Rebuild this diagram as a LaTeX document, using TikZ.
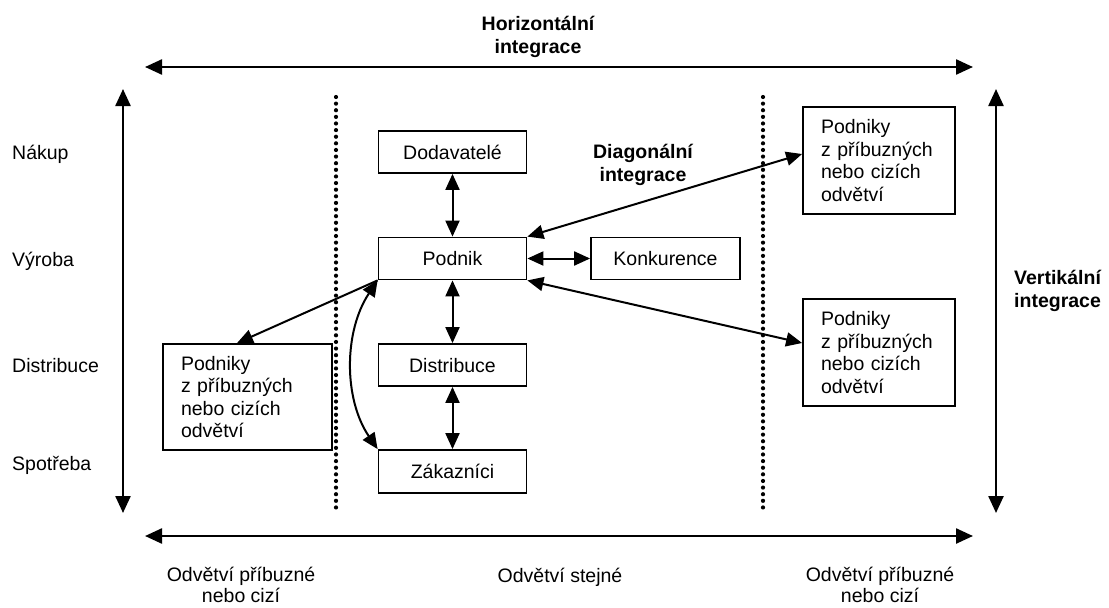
\documentclass[tikz,border=0pt]{standalone}
\usepackage{fontspec}
\setmainfont{Liberation Sans}
\usetikzlibrary{arrows.meta,calc}
\begin{document}
\begin{tikzpicture}[x=1pt,y=-1pt,
  >={Triangle[length=16pt,width=14pt]},
  every node/.style={font=\fontsize{19.5}{22.5}\selectfont, inner sep=0pt},
  box/.style={draw, line width=1.8pt, minimum width=148pt, minimum height=42pt,
    text height=14pt, text depth=0pt},
  firmbox/.style={draw, line width=1.8pt, align=left, inner xsep=18pt,
    minimum height=106pt},
  title/.style={font=\fontsize{19.5}{23}\selectfont\bfseries},
  axis/.style={line width=2.4pt, <->, >={Triangle[length=17pt,width=15pt]}},
  link/.style={line width=2pt},
  divider/.style={line width=4.2pt, line cap=round, dash pattern=on 0pt off 6.62pt}
]
\useasboundingbox[fill=white] (0,0) rectangle (1109,608);

% axes
\coordinate (h1) at (145,67);  \coordinate (h2) at (973,67);
\coordinate (b1) at (145,536); \coordinate (b2) at (973,536);
\coordinate (v1) at (123,89);  \coordinate (v2) at (123,513);
\coordinate (w1) at (996,89);  \coordinate (w2) at (996,513);
\draw[axis] (h1) -- (h2);
\draw[axis] (b1) -- (b2);
\draw[axis] (v1) -- (v2);
\draw[axis] (w1) -- (w2);

% dotted dividers between branches
\coordinate (d1a) at (336,97); \coordinate (d1b) at (336,514);
\coordinate (d2a) at (763,97); \coordinate (d2b) at (763,514);
\draw[divider] (d1a) -- (d1b);
\draw[divider] (d2a) -- (d2b);

% axis titles
\node[title, align=center, anchor=north] (htitle) at (538,16) {Horizontální\\integrace};
\node[title, align=center, anchor=north] (dtitle) at (643,144) {Diagonální\\integrace};
\node[title, align=left, anchor=north west] (vtitle) at (1014,270) {Vertikální\\integrace};

% stage labels
\node[anchor=base west] (l1) at (12,159) {Nákup};
\node[anchor=base west] (l2) at (12,266) {Výroba};
\node[anchor=base west] (l3) at (12,372) {Distribuce};
\node[anchor=base west] (l4) at (12,470) {Spotřeba};

% branch labels
\node[align=center, anchor=north, font=\fontsize{19.5}{21}\selectfont] (bl) at (241,567) {Odvětví příbuzné\\nebo cizí};
\node[anchor=base] (bm) at (560,582) {Odvětví stejné};
\node[align=center, anchor=north, font=\fontsize{19.5}{21}\selectfont] (br) at (880,567) {Odvětví příbuzné\\nebo cizí};

% value chain
\node[box] (dod) at (452.5,152) {Dodavatelé};
\node[box] (pod) at (452.5,258.5) {Podnik};
\node[box, minimum width=149pt] (kon) at (665.5,258.5) {Konkurence};
\node[box] (dis) at (452.5,365) {Distribuce};
\node[box, minimum height=43pt] (zak) at (452.5,471.5) {Zákazníci};

% firms from related or other branches
\node[firmbox, text width=133pt] (lf) at (247.5,397) {Podniky\\z příbuzných\\nebo cizích\\odvětví};
\node[firmbox, text width=116pt, minimum height=107pt] (rt) at (879,160.5) {Podniky\\z příbuzných\\nebo cizích\\odvětví};
\node[firmbox, text width=116pt, minimum height=107pt] (rb) at (879,352.5) {Podniky\\z příbuzných\\nebo cizích\\odvětví};

% links
\draw[link, <->] (dod) -- (pod);
\draw[link, <->] (pod) -- (dis);
\draw[link, <->] (dis) -- (zak);
\draw[link, <->] (pod) -- (kon);
\draw[link, <->] (pod.north east) -- ([yshift=6.5pt]rt.west);
\draw[link, <->] (pod.south east) -- ([yshift=9.5pt]rb.west);
\draw[link, ->] (pod.south west) -- ([xshift=-10.5pt]lf.north);
\draw[link, <->] (pod.south west) .. controls +(-34,51) and +(-34,-50) .. (zak.north west);
\end{tikzpicture}
\end{document}
